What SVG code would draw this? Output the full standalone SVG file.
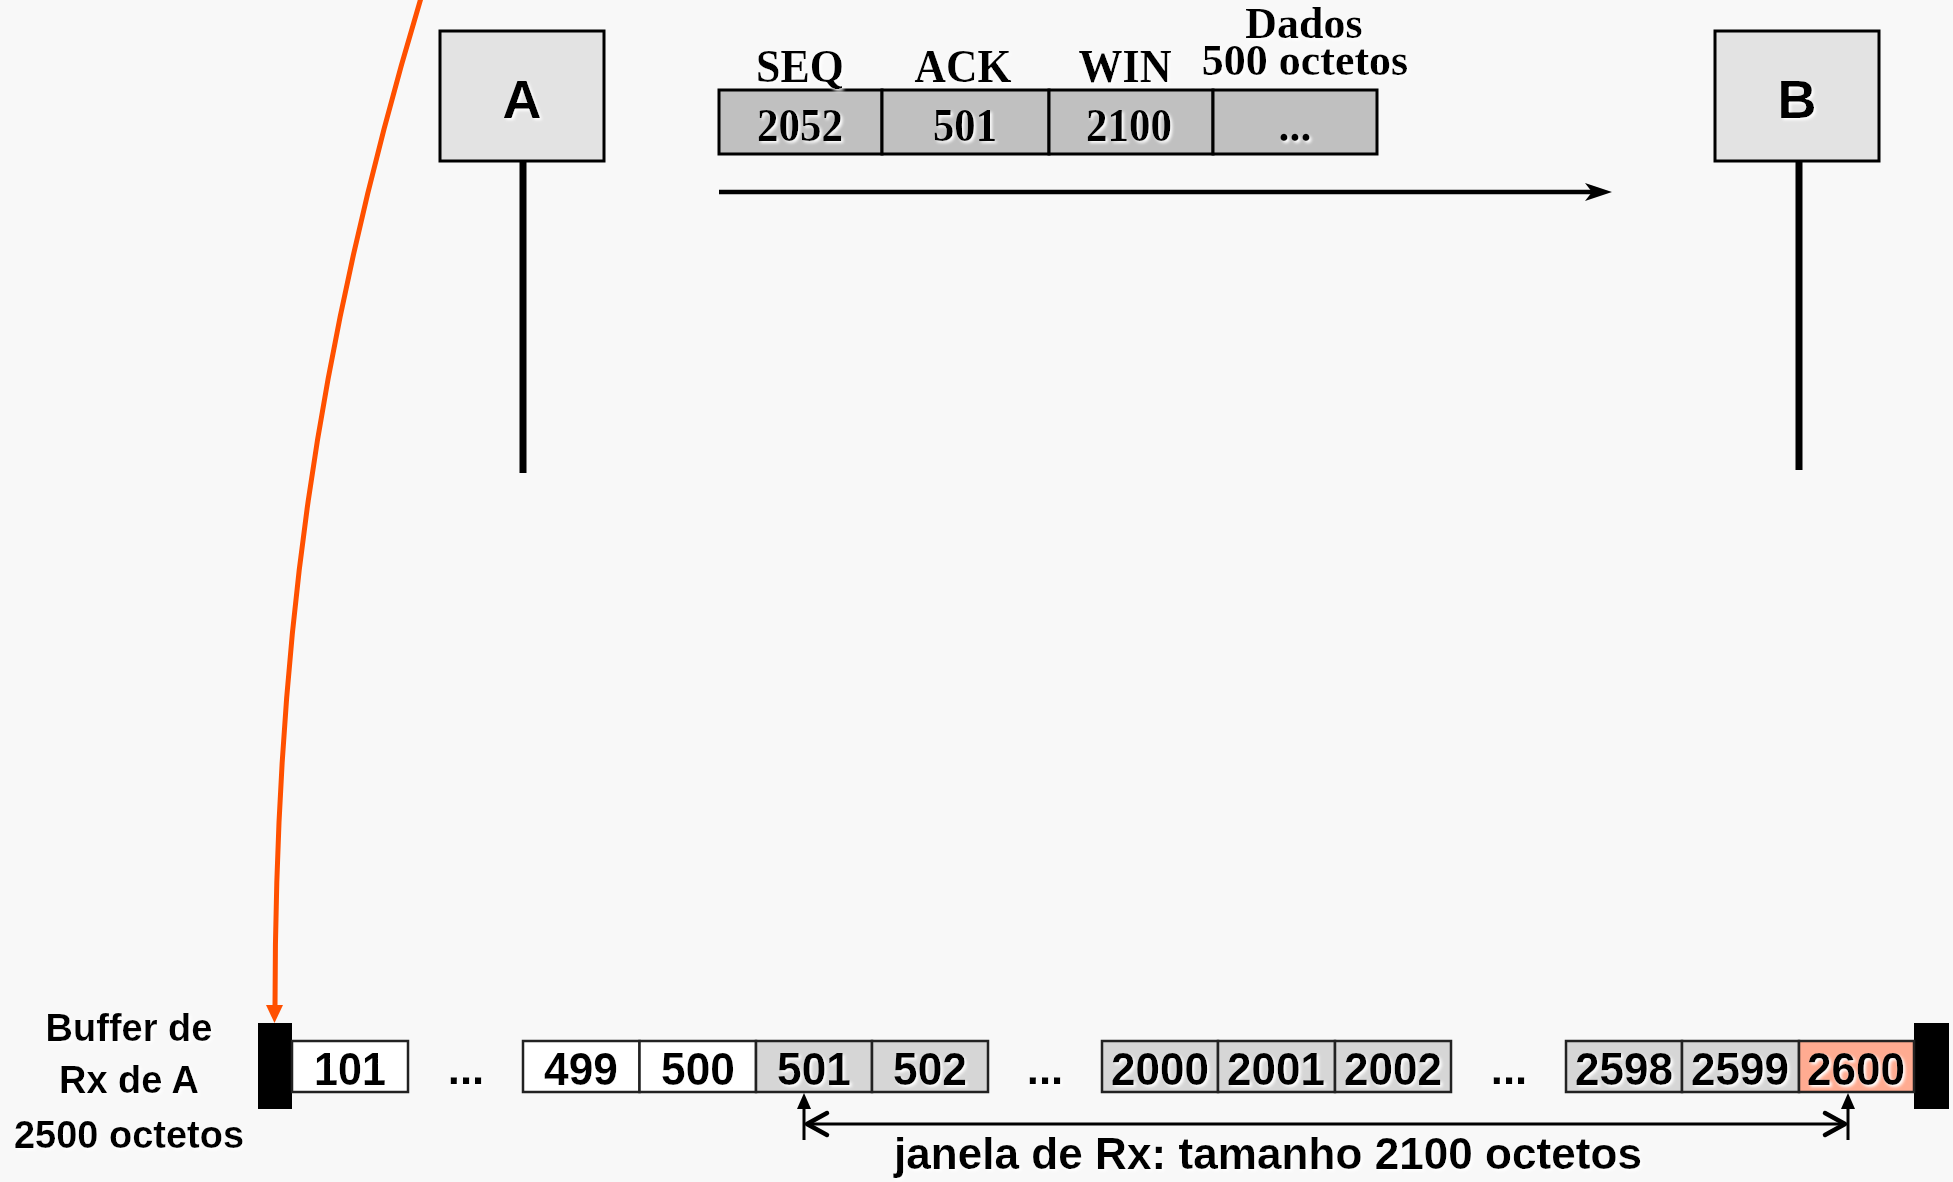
<svg xmlns="http://www.w3.org/2000/svg" width="1953" height="1182" viewBox="0 0 1953 1182">
<defs>
<style>
.serif{font-family:"Liberation Serif","Times New Roman",serif;font-weight:bold;text-anchor:middle;fill:#000}
.sans{font-family:"Liberation Sans",Arial,sans-serif;font-weight:bold;text-anchor:middle;fill:#000}
.box{fill:#e3e3e3;stroke:#000;stroke-width:3}
.hdr{fill:#c0c0c0;stroke:#000;stroke-width:3}
.cw{fill:#ffffff;stroke:#222;stroke-width:2.5}
.cg{fill:#d6d6d6;stroke:#222;stroke-width:2.5}
.cs{fill:#ffab91;stroke:#222;stroke-width:2.5}
.life{stroke:#000;stroke-width:7;fill:none}
</style>
<filter id="glow" x="-10%" y="-20%" width="130%" height="150%">
<feDropShadow dx="2" dy="2" stdDeviation="1.5" flood-color="#ffffff" flood-opacity="1"/>
</filter>
</defs>
<rect x="0" y="0" width="1953" height="1182" fill="#f8f8f8"/>

<g id="node-A">
<rect class="box" x="440" y="31" width="164" height="130"/>
<text class="sans" x="522" y="118" font-size="54" filter="url(#glow)">A</text>
</g>

<g id="node-B">
<rect class="box" x="1715" y="31" width="164" height="130"/>
<text class="sans" x="1797" y="118" font-size="54" filter="url(#glow)">B</text>
</g>

<g id="segment">
<rect class="hdr" x="719" y="90" width="163" height="64"/>
<rect class="hdr" x="882" y="90" width="167" height="64"/>
<rect class="hdr" x="1049" y="90" width="164" height="64"/>
<rect class="hdr" x="1213" y="90" width="164" height="64"/>
<g filter="url(#glow)">
<text class="serif" x="800" y="82" font-size="47" textLength="88" lengthAdjust="spacingAndGlyphs">SEQ</text>
<text class="serif" x="963" y="82" font-size="47" textLength="97" lengthAdjust="spacingAndGlyphs">ACK</text>
<text class="serif" x="1125" y="82" font-size="47" textLength="93" lengthAdjust="spacingAndGlyphs">WIN</text>
<text class="serif" font-size="44"><tspan x="1304" y="38">Dados</tspan><tspan x="1305" y="75">500 octetos</tspan></text>
<text class="serif" x="800" y="141" font-size="46" textLength="86" lengthAdjust="spacingAndGlyphs">2052</text>
<text class="serif" x="965" y="141" font-size="46" textLength="64" lengthAdjust="spacingAndGlyphs">501</text>
<text class="serif" x="1129" y="141" font-size="46" textLength="86" lengthAdjust="spacingAndGlyphs">2100</text>
<text class="serif" x="1295" y="141" font-size="44">...</text>
</g>
</g>

<g id="buffer">
<g filter="url(#glow)">
<text class="sans" x="129" y="1041" font-size="38">Buffer de</text>
<text class="sans" x="129" y="1093" font-size="38">Rx de A</text>
<text class="sans" x="129" y="1148" font-size="38">2500 octetos</text>
</g>
<rect x="258" y="1023" width="34" height="86" fill="#000"/>
<rect x="1914" y="1023" width="35" height="86" fill="#000"/>
<rect class="cw" x="292" y="1041" width="116" height="51"/>
<rect class="cw" x="523" y="1041" width="116.5" height="51"/>
<rect class="cw" x="639.5" y="1041" width="116.5" height="51"/>
<rect class="cg" x="756" y="1041" width="116" height="51"/>
<rect class="cg" x="872" y="1041" width="116" height="51"/>
<rect class="cg" x="1102" y="1041" width="116" height="51"/>
<rect class="cg" x="1218" y="1041" width="117" height="51"/>
<rect class="cg" x="1335" y="1041" width="116" height="51"/>
<rect class="cg" x="1566" y="1041" width="116" height="51"/>
<rect class="cg" x="1682" y="1041" width="117" height="51"/>
<rect class="cs" x="1799" y="1041" width="115" height="51"/>
<g filter="url(#glow)">
<text class="sans" x="350" y="1085" font-size="46" textLength="72" lengthAdjust="spacingAndGlyphs">101</text>
<text class="sans" x="466" y="1084" font-size="44">...</text>
<text class="sans" x="581" y="1085" font-size="46" textLength="74" lengthAdjust="spacingAndGlyphs">499</text>
<text class="sans" x="698" y="1085" font-size="46" textLength="74" lengthAdjust="spacingAndGlyphs">500</text>
<text class="sans" x="814" y="1085" font-size="46" textLength="74" lengthAdjust="spacingAndGlyphs">501</text>
<text class="sans" x="930" y="1085" font-size="46" textLength="74" lengthAdjust="spacingAndGlyphs">502</text>
<text class="sans" x="1045" y="1084" font-size="44">...</text>
<text class="sans" x="1160" y="1085" font-size="46" textLength="98" lengthAdjust="spacingAndGlyphs">2000</text>
<text class="sans" x="1276" y="1085" font-size="46" textLength="98" lengthAdjust="spacingAndGlyphs">2001</text>
<text class="sans" x="1393" y="1085" font-size="46" textLength="98" lengthAdjust="spacingAndGlyphs">2002</text>
<text class="sans" x="1509" y="1084" font-size="44">...</text>
<text class="sans" x="1624" y="1085" font-size="46" textLength="98" lengthAdjust="spacingAndGlyphs">2598</text>
<text class="sans" x="1740" y="1085" font-size="46" textLength="98" lengthAdjust="spacingAndGlyphs">2599</text>
<text class="sans" x="1856" y="1085" font-size="46" textLength="98" lengthAdjust="spacingAndGlyphs">2600</text>
<text class="sans" x="1268" y="1169" font-size="45" textLength="748" lengthAdjust="spacingAndGlyphs">janela de Rx: tamanho 2100 octetos</text>
</g>
</g>

<g id="connectors">
<line class="life" x1="523" y1="161" x2="523" y2="473"/>
<line class="life" x1="1799" y1="161" x2="1799" y2="470"/>
<line x1="719" y1="192" x2="1594" y2="192" stroke="#000" stroke-width="4.5"/>
<path d="M1612 192 L1585 183 L1592 192 L1585 201 Z" fill="#000"/>
<path d="M421 -2 C315 350 275 650 275 1007" fill="none" stroke="#ff5000" stroke-width="5"/>
<path d="M266 1005 L283 1005 L274.5 1023 Z" fill="#ff5000"/>
<line x1="804" y1="1106" x2="804" y2="1140" stroke="#000" stroke-width="3"/>
<path d="M804 1093 L797 1109 L811 1109 Z" fill="#000"/>
<line x1="1848" y1="1106" x2="1848" y2="1140" stroke="#000" stroke-width="3"/>
<path d="M1848 1093 L1841 1109 L1855 1109 Z" fill="#000"/>
<line x1="806" y1="1124" x2="1846" y2="1124" stroke="#000" stroke-width="3"/>
<path d="M827 1113 L807 1124 L827 1135" fill="none" stroke="#000" stroke-width="4.5" stroke-linecap="round" stroke-linejoin="round"/>
<path d="M1825 1113 L1845 1124 L1825 1135" fill="none" stroke="#000" stroke-width="4.5" stroke-linecap="round" stroke-linejoin="round"/>
</g>
</svg>
